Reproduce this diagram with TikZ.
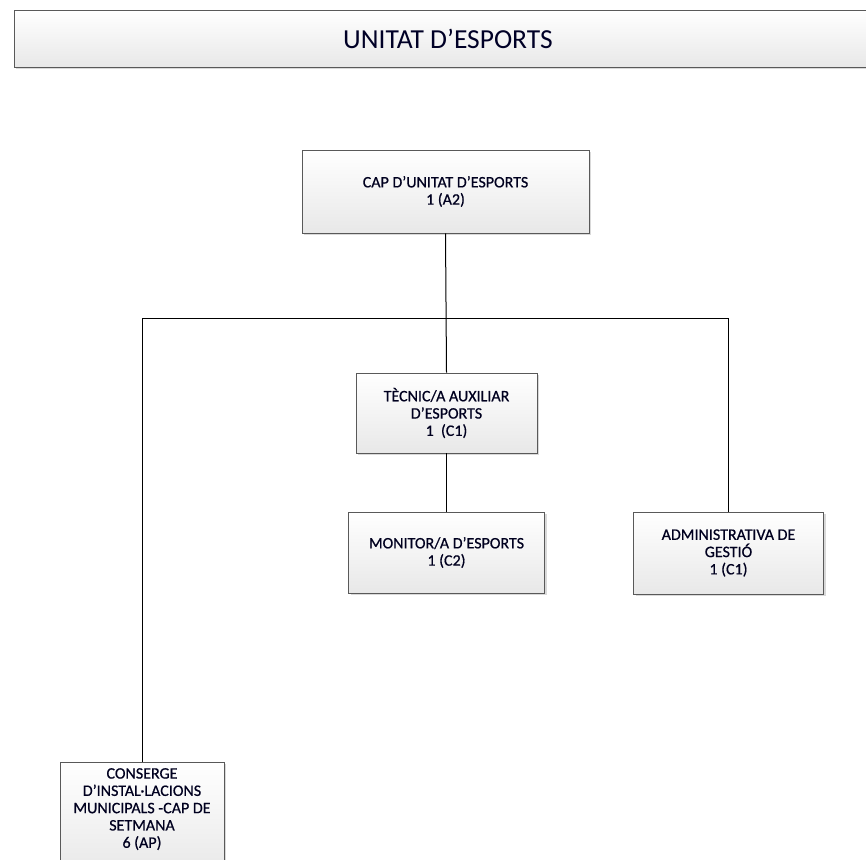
\documentclass[tikz,border=0pt]{standalone}
\usepackage{fontspec}
\setmainfont{Carlito}
\newfontfamily\boxfont[FakeBold=0.6]{Carlito}
\usetikzlibrary{shadows}

\begin{document}
\begin{tikzpicture}[x=1pt,y=-1pt,
  boxbase/.style={draw=black!65, line width=0.9pt, top color=white, bottom color=black!9,
    drop shadow={shadow xshift=2pt, shadow yshift=-2pt, fill=black!25, opacity=0.6},
    inner sep=0pt, align=center},
  unitfont/.style={font=\boxfont\fontsize{16}{17.3}\selectfont, text=black!88!blue},
  unitbox/.style={boxbase, unitfont},
  unittext/.style={unitfont, align=center, inner sep=0pt},
  link/.style={draw=black, line width=1pt}]
\useasboundingbox (0,0) rectangle (866,859);

% heading bar
\node[boxbase, minimum width=868, minimum height=57, font=\fontsize{27.5}{30}\selectfont, text=black!85!blue]
  (title) at (448,38.5) {UNITAT D’ESPORTS};

% organisation boxes
\node[unitbox, minimum width=287, minimum height=83] (cap) at (445.5,191.5)
  {CAP D’UNITAT D’ESPORTS\\1 (A2)};
\node[unitbox, minimum width=181, minimum height=80] (tecnic) at (446.5,413)
  {TÈCNIC/A AUXILIAR\\D’ESPORTS\\1~~(C1)};
\node[unitbox, minimum width=196, minimum height=81] (monitor) at (446.5,552.5)
  {MONITOR/A D’ESPORTS\\1 (C2)};
\node[unitbox, minimum width=190, minimum height=82] (admin) at (728.5,553)
  {ADMINISTRATIVA DE\\GESTIÓ\\1 (C1)};
\node[boxbase, minimum width=164, minimum height=112, anchor=north] (conserge) at (142,762) {};
\node[unittext, anchor=north] (consergetext) at (142,768)
  {CONSERGE\\D’INSTAL·LACIONS\\MUNICIPALS -CAP DE\\SETMANA\\6 (AP)};

% connectors
\coordinate (bus) at (446.5,318.5);
\draw[link] (cap.south) -- (tecnic.north);
\draw[link] (tecnic.south) -- (monitor.north);
\draw[link] (conserge.north) |- (bus) -| (admin.north);
\end{tikzpicture}
\end{document}
